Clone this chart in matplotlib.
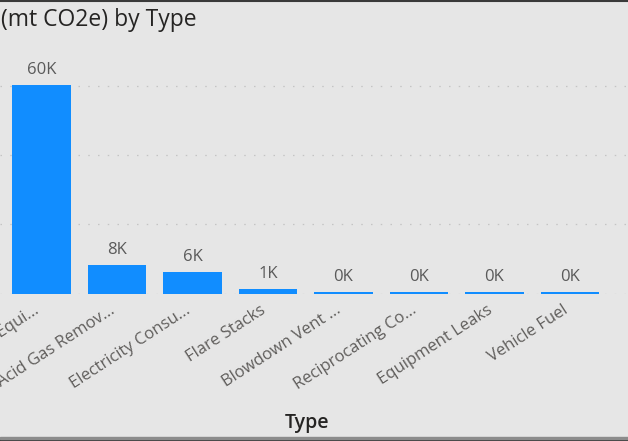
import matplotlib.pyplot as plt
import matplotlib.transforms as mtransforms
from matplotlib.lines import Line2D
from matplotlib.patches import Rectangle

plt.rcParams['font.family'] = ['Open Sans', 'DejaVu Sans']

# emissions per source type (mt CO2e)
types = ["Combustion Equi...", "Acid Gas Remov...", "Electricity Consu...",
         "Flare Stacks", "Blowdown Vent ...", "Reciprocating Co...",
         "Equipment Leaks", "Vehicle Fuel"]
emissions = [60400, 8300, 6300, 1200, 420, 400, 380, 360]
grid_vals = [0, 20000, 40000, 60000]

W, H = 628, 441
bg = '#e6e6e6'
fig = plt.figure(figsize=(W / 100, H / 100), dpi=100, facecolor=bg)

# plot area in pixels: baseline at y=293.5, 60K line at y=86
base_px = H - 293.5
k_px = (H - 86 - base_px) / 60000
top_px = H - 50
ax = fig.add_axes([0, base_px / H, 1, (top_px - base_px) / H])
ax.set_facecolor(bg)
x0 = -41.5 / 75.5
ax.set_xlim(x0, x0 + W / 75.5)
ax.set_ylim(0, (top_px - base_px) / k_px)

pos = list(range(len(types)))
ax.bar(pos, emissions, width=0.78, color='#118dff', zorder=3)

for v in grid_vals:
    ax.axhline(v, color='#c4c4c4', lw=0.9, linestyle=(0, (1.2, 6.6)), zorder=1)

for p, v in zip(pos, emissions):
    ax.annotate(f"{v / 1000:.0f}K", (p, v), xytext=(0, 8), textcoords='offset points',
                ha='center', va='baseline', fontsize=12, color='#5a5a5a')

ax.set_xticks(pos)
ax.set_xticklabels(types, rotation=33, ha='right', rotation_mode='anchor',
                   fontsize=12, color='#605e5c')
ax.tick_params(axis='x', length=0, pad=4)
shift = mtransforms.ScaledTranslation(-0.08, -0.03, fig.dpi_scale_trans)
for lab in ax.get_xticklabels():
    lab.set_transform(lab.get_transform() + shift)
ax.set_yticks([])
for s in ax.spines.values():
    s.set_visible(False)

fig.text(1 / W, 1 - 26 / H, "(mt CO2e) by Type", ha='left', va='baseline',
         fontsize=16.5, color='#252423')
fig.text(307 / W, 1 - 428 / H, "Type", ha='center', va='baseline',
         fontsize=14, color='#252423', fontweight='semibold')

# frame edges
fig.add_artist(Line2D([0, 1], [1 - 1 / H, 1 - 1 / H], color='#3a3a3a', lw=1.5))
fig.add_artist(Rectangle((0, 0), 1, 2.5 / H, color='#3c3c3c', transform=fig.transFigure))
fig.add_artist(Rectangle((0, 2.5 / H), 1, 2 / H, color='#8c8c8c', transform=fig.transFigure))

fig.savefig('out.png', dpi=100, facecolor=bg)
